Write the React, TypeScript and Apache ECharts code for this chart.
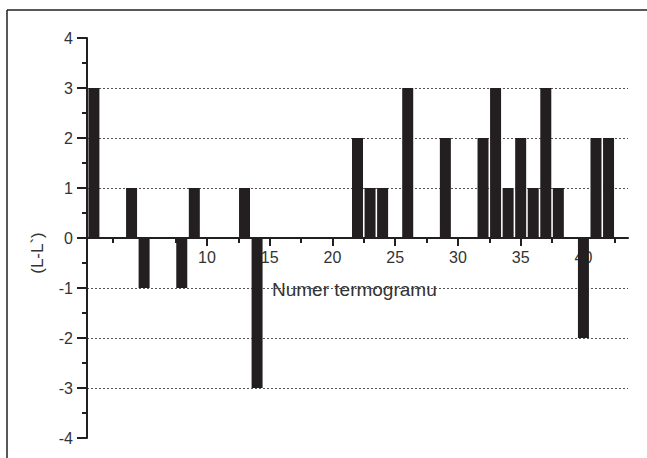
import React, { useEffect, useRef } from "react";
import * as echarts from "echarts";

// Thermogram numbers (x) and (L-L`) differences (y)
const termograms = [
  1, 2, 3, 4, 5, 6, 7, 8, 9, 10, 11, 12, 13, 14, 15, 16, 17, 18, 19, 20, 21,
  22, 23, 24, 25, 26, 27, 28, 29, 30, 31, 32, 33, 34, 35, 36, 37, 38, 39, 40,
  41, 42,
];
const differences = [
  3, 0, 0, 1, -1, 0, 0, -1, 1, 0, 0, 0, 1, -3, 0, 0, 0, 0, 0, 0, 0,
  2, 1, 1, 0, 3, 0, 0, 2, 0, 0, 2, 3, 1, 2, 1, 3, 1, 0, -2,
  2, 2,
];
const xMajorTicks = [5, 10, 15, 20, 25, 30, 35, 40];
const xMinorTicks = [2.5, 7.5, 12.5, 17.5, 22.5, 27.5, 32.5, 37.5, 42.5];
const xTickLabels = [10, 15, 20, 25, 30, 35, 40];
const xTitle = "Numer termogramu";
const yTitle = "(L-L`)";

const FONT = "'Liberation Sans', Arial, sans-serif";
const INK = "#231f20";
const TEXT = "#333333";

export default function App() {
  const ref = useRef<HTMLDivElement>(null);

  useEffect(() => {
    if (!ref.current) return;
    const chart = echarts.init(ref.current, undefined, { renderer: "svg" });
    const gridBox = {
      left: 87,
      top: 38,
      width: 541,
      height: 400,
      containLabel: false,
      outerBoundsMode: "none",
    };
    const xBase = {
      type: "value" as const,
      min: 0.45,
      max: 43.55,
      position: "bottom",
      offset: -200, // axis crosses the y axis at 0 (middle of the plot)
      splitLine: { show: false },
    };
    const yBase = {
      type: "value" as const,
      min: -4,
      max: 4,
      interval: 1,
    };
    chart.setOption({
      animation: false,
      backgroundColor: "#ffffff",
      grid: [gridBox, { ...gridBox }],
      xAxis: [
        {
          ...xBase,
          gridIndex: 0,
          axisLine: { onZero: false, lineStyle: { color: INK, width: 2 } },
          axisTick: {
            show: true,
            length: 8,
            customValues: xMajorTicks,
            lineStyle: { color: INK, width: 2 },
          },
          axisLabel: {
            customValues: xTickLabels,
            margin: 11,
            fontSize: 16,
            color: TEXT,
            fontFamily: FONT,
          },
        },
        {
          ...xBase,
          gridIndex: 1,
          axisLine: { show: false, onZero: false },
          axisTick: {
            show: true,
            length: 5,
            customValues: xMinorTicks,
            lineStyle: { color: INK, width: 2 },
          },
          axisLabel: { show: false },
        },
      ],
      yAxis: [
        {
          ...yBase,
          gridIndex: 0,
          axisLine: { show: true, lineStyle: { color: INK, width: 2 } },
          axisTick: { show: true, length: 10, lineStyle: { color: INK, width: 2 } },
          minorTick: { show: true, splitNumber: 2, length: 5, lineStyle: { color: INK, width: 2 } },
          axisLabel: { margin: 14, fontSize: 16, color: TEXT, fontFamily: FONT },
          splitLine: {
            show: true,
            showMinLine: false,
            showMaxLine: false,
            lineStyle: { color: "#555555", width: 1, type: [2, 2] },
          },
        },
        {
          ...yBase,
          gridIndex: 1,
          show: false,
          axisLine: { show: false },
          axisTick: { show: false },
          axisLabel: { show: false },
          splitLine: { show: false },
        },
      ],
      graphic: [
        {
          type: "line",
          shape: { x1: 7, y1: 10, x2: 7, y2: 470 },
          style: { stroke: INK, lineWidth: 1.5 },
        },
        {
          type: "line",
          shape: { x1: 7, y1: 10, x2: 660, y2: 10 },
          style: { stroke: INK, lineWidth: 1.5 },
        },
        {
          type: "text",
          x: 272,
          y: 289,
          z: 10,
          style: {
            text: xTitle,
            fill: TEXT,
            font: `19px ${FONT}`,
            align: "left",
            verticalAlign: "middle",
          },
        },
        {
          type: "text",
          x: 37,
          y: 253,
          rotation: Math.PI / 2,
          z: 10,
          style: {
            text: yTitle,
            fill: TEXT,
            font: `17px ${FONT}`,
            align: "center",
            verticalAlign: "middle",
          },
        },
      ],
      series: [
        {
          type: "bar",
          xAxisIndex: 0,
          yAxisIndex: 0,
          barWidth: 11,
          itemStyle: { color: INK },
          data: termograms.map((t, i) => [t, differences[i]]),
        },
      ],
    });
    return () => chart.dispose();
  }, []);

  return (
    <div
      ref={ref}
      style={{ position: "fixed", left: 0, top: 0, width: 647, height: 458 }}
    />
  );
}
